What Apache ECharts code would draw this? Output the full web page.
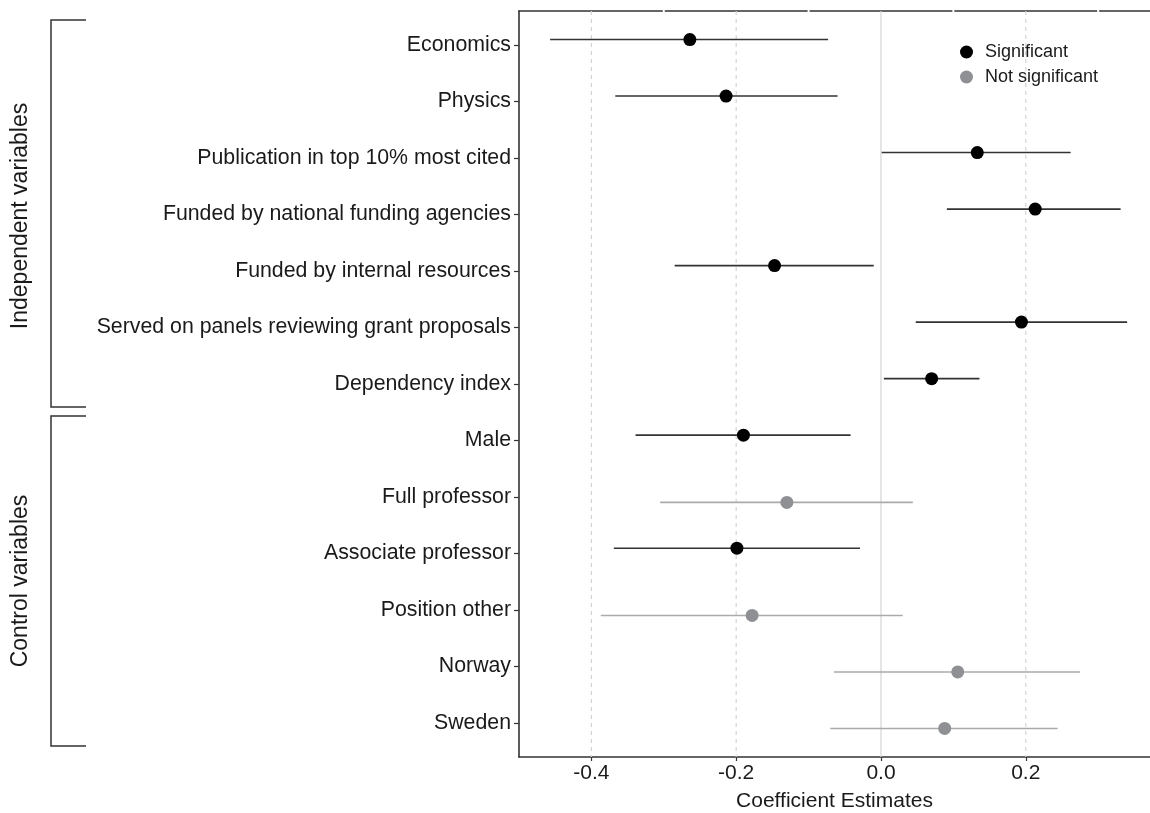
<!DOCTYPE html>
<html>
<head>
<meta charset="utf-8">
<script src="https://cdn.jsdelivr.net/npm/echarts@6/dist/echarts.min.js"></script>
<style>
html,body{margin:0;padding:0;background:#fff;}
#chart{width:1150px;height:813px;}
</style>
</head>
<body>
<div id="chart"></div>
<script>
const categories = [
  "Economics",
  "Physics",
  "Publication in top 10% most cited",
  "Funded by national funding agencies",
  "Funded by internal resources",
  "Served on panels reviewing grant proposals",
  "Dependency index",
  "Male",
  "Full professor",
  "Associate professor",
  "Position other",
  "Norway",
  "Sweden"
];
const estimates = [-0.264, -0.214, 0.133, 0.213, -0.147, 0.194, 0.070, -0.190, -0.130, -0.199, -0.178, 0.106, 0.088];
const lower     = [-0.457, -0.367, 0.001, 0.091, -0.285, 0.048, 0.004, -0.339, -0.305, -0.369, -0.387, -0.065, -0.070];
const upper     = [-0.073, -0.060, 0.262, 0.331, -0.010, 0.340, 0.136, -0.042, 0.044, -0.029, 0.030, 0.275, 0.244];
const significant = [1, 1, 1, 1, 1, 1, 1, 1, 0, 1, 0, 0, 0];
const xTicks = [-0.4, -0.2, 0.0, 0.2];
const xMinorTicks = [-0.3, -0.1, 0.1, 0.3];
const groupNames = ["Independent variables", "Control variables"];

const FONT = "Liberation Sans, Arial, sans-serif";
const SIG_COLOR = "#000000";
const NS_COLOR = "#8e9094";
const SIG_LINE = "#333333";
const NS_LINE = "#aaaaaa";
const DODGE = 0.095;

const catIdx = categories.map((c, i) => i);
const yPos = i => i + (significant[i] ? -DODGE : DODGE);
const errData = catIdx.map(i => [lower[i], upper[i], yPos(i), significant[i]]);
const sigPts = catIdx.filter(i => significant[i]).map(i => [estimates[i], yPos(i)]);
const nsPts = catIdx.filter(i => !significant[i]).map(i => [estimates[i], yPos(i)]);

const X_MIN = -0.5, X_MAX = 0.3716;
const Y_MIN = -0.6, Y_MAX = categories.length - 1 + 0.6;

const chart = echarts.init(document.getElementById('chart'), null, {renderer: 'canvas'});
const option = {
  animation: false,
  backgroundColor: '#ffffff',
  textStyle: {fontFamily: FONT},
  grid: {left: 519, right: 0, top: 11, bottom: 56, containLabel: false, outerBoundsMode: 'none'},
  legend: {
    orient: 'vertical',
    left: 955,
    top: 38,
    itemWidth: 27,
    itemHeight: 13,
    itemGap: 7,
    icon: 'circle',
    textStyle: {fontFamily: FONT, fontSize: 18, color: '#1a1a1a', lineHeight: 18},
    data: ['Significant', 'Not significant']
  },
  xAxis: [{
    type: 'value',
    position: 'bottom',
    min: X_MIN,
    max: X_MAX,
    axisLine: {show: true, onZero: false, lineStyle: {color: '#333333', width: 1.6}},
    axisTick: {show: true, length: 4, customValues: xTicks, lineStyle: {color: '#333333', width: 1.2}},
    axisLabel: {
      customValues: xTicks,
      fontSize: 21, color: '#1a1a1a', fontFamily: FONT, margin: 6,
      formatter: v => v.toFixed(1)
    },
    splitLine: {show: false},
    name: 'Coefficient Estimates',
    nameLocation: 'middle',
    nameGap: 34,
    nameTextStyle: {fontSize: 21, color: '#1a1a1a', fontFamily: FONT}
  }, {
    type: 'value',
    position: 'top',
    min: X_MIN,
    max: X_MAX,
    axisLine: {show: true, onZero: false, lineStyle: {color: '#333333', width: 1.6}},
    axisTick: {show: false},
    axisLabel: {show: false},
    splitLine: {show: false}
  }],
  yAxis: {
    type: 'value',
    min: Y_MIN,
    max: Y_MAX,
    inverse: true,
    axisLine: {show: true, onZero: false, lineStyle: {color: '#333333', width: 1.6}},
    axisTick: {show: true, length: 5, customValues: catIdx, lineStyle: {color: '#333333', width: 1.2}},
    axisLabel: {
      customValues: catIdx,
      fontSize: 21.3, color: '#1a1a1a', fontFamily: FONT, margin: 8,
      formatter: v => categories[Math.round(v)]
    },
    splitLine: {show: false}
  },
  graphic: [
    {type: 'polyline', shape: {points: [[86, 20], [51, 20], [51, 407], [86, 407]]}, style: {stroke: '#333333', lineWidth: 1.5, fill: null}},
    {type: 'polyline', shape: {points: [[86, 416], [51, 416], [51, 746], [86, 746]]}, style: {stroke: '#333333', lineWidth: 1.5, fill: null}},
    {type: 'text', x: 21, y: 216, rotation: Math.PI / 2,
      style: {text: groupNames[0], fontSize: 23, fontFamily: FONT, fill: '#1a1a1a', align: 'center', verticalAlign: 'middle'}},
    {type: 'text', x: 21, y: 581, rotation: Math.PI / 2,
      style: {text: groupNames[1], fontSize: 23, fontFamily: FONT, fill: '#1a1a1a', align: 'center', verticalAlign: 'middle'}}
  ],
  series: [
    {
      name: 'gridlines',
      type: 'custom',
      silent: true,
      data: xTicks.map(v => [v]),
      encode: {x: 0},
      renderItem: function (params, api) {
        const v = api.value(0);
        const p1 = api.coord([v, Y_MIN]);
        const p2 = api.coord([v, Y_MAX]);
        return {
          type: 'line',
          shape: {x1: p1[0], y1: p1[1], x2: p2[0], y2: p2[1]},
          style: {stroke: '#d4d4d4', lineWidth: 1.2, lineDash: Math.abs(v) < 1e-9 ? null : [4, 4]}
        };
      },
      z: 1
    },
    {
      name: 'topgaps',
      type: 'custom',
      silent: true,
      clip: false,
      data: xMinorTicks.map(v => [v]),
      encode: {x: 0},
      renderItem: function (params, api) {
        const p = api.coord([api.value(0), Y_MIN]);
        return {type: 'rect', shape: {x: p[0] - 1, y: p[1] - 2, width: 2, height: 4}, style: {fill: '#ffffff'}};
      },
      z: 1
    },
    {
      name: 'errorbars',
      type: 'custom',
      silent: true,
      encode: {x: [0, 1], y: 2},
      data: errData,
      renderItem: function (params, api) {
        const y = api.value(2);
        const p1 = api.coord([api.value(0), y]);
        const p2 = api.coord([api.value(1), y]);
        const sig = api.value(3) === 1;
        return {
          type: 'line',
          shape: {x1: p1[0], y1: p1[1], x2: p2[0], y2: p2[1]},
          style: {stroke: sig ? SIG_LINE : NS_LINE, lineWidth: 1.6}
        };
      },
      z: 3
    },
    {
      name: 'Significant',
      type: 'scatter',
      symbol: 'circle',
      symbolSize: 13,
      itemStyle: {color: SIG_COLOR, opacity: 1},
      data: sigPts,
      z: 4
    },
    {
      name: 'Not significant',
      type: 'scatter',
      symbol: 'circle',
      symbolSize: 13,
      itemStyle: {color: NS_COLOR, opacity: 1},
      data: nsPts,
      z: 4
    }
  ]
};
chart.setOption(option);
</script>
</body>
</html>
